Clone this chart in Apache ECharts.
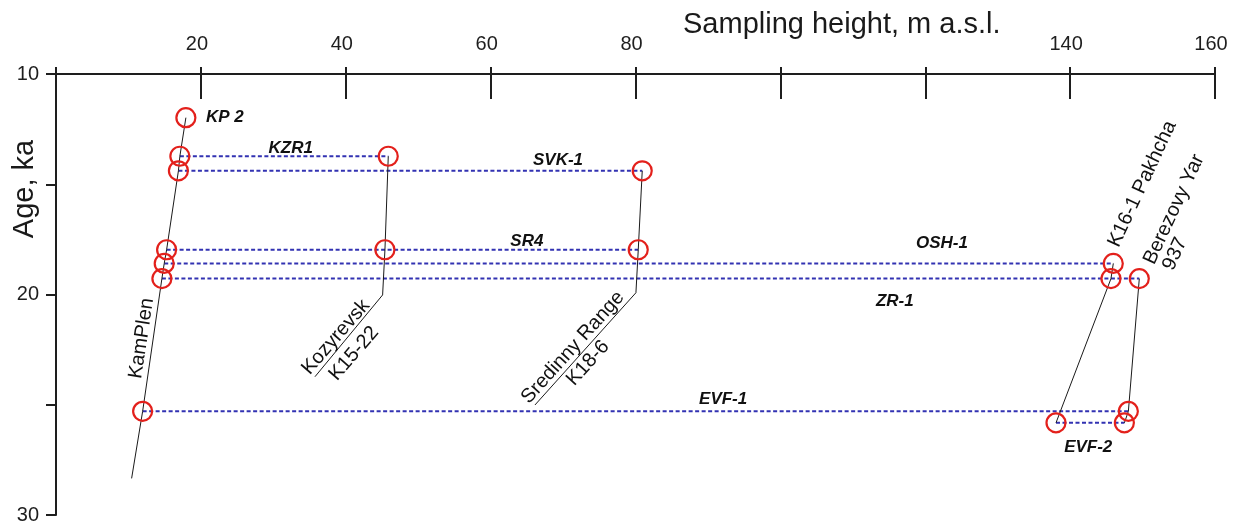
<!DOCTYPE html>
<html>
<head>
<meta charset="utf-8">
<script src="https://cdn.jsdelivr.net/npm/echarts@6/dist/echarts.min.js"></script>
<style>
html,body{margin:0;padding:0;background:#fff;}
#chart{width:1235px;height:527px;}
</style>
</head>
<body>
<div id="chart"></div>
<script>
// ---------- DATA ----------
const tephraNames = ['KP 2', 'KZR1', 'SVK-1', 'SR4', 'OSH-1', 'ZR-1', 'EVF-1', 'EVF-2'];
const tephraAges  = [11.98, 13.73, 14.39, 17.97, 18.59, 19.28, 25.30, 25.82];

// sampling heights (m a.s.l.) of each tephra in each section (null = absent)
const kamPlenHeights   = [17.93, 17.10, 16.90, 15.27, 14.94, 14.62, 11.96, null];
const kozyrevskHeights = [null, 45.87, null, 45.41, null, null, null, null];
const sredinnyHeights  = [null, null, 80.93, 80.38, null, null, null, null];
const pakhchaHeights   = [null, null, null, null, 145.96, 145.64, null, 138.05];
const berezovyHeights  = [null, null, null, null, null, 149.55, 148.04, 147.49];

// extra vertices of the section lines [height, age]
const kamPlenExtra   = [[10.44, 28.34]];
const kozyrevskExtra = [[45.09, 20.02], [35.75, 23.73]];
const sredinnyExtra  = [[80.06, 19.92], [66.12, 25.01]];

// tephra label anchors [height, age]
const tephraLabelX = [23.3, 32.4, 69.3, 65.0, 122.3, 115.8, 92.1, 142.5];
const tephraLabelY = [11.95, 13.36, 13.90, 17.57, 17.66, 20.29, 24.74, 26.92];

// section label anchors [height, age]
const siteLabelText = ['KamPlen', 'Kozyrevsk', 'K15-22', 'Sredinny Range', 'K18-6', 'K16-1 Pakhcha', 'Berezovy Yar', '937'];
const siteLabelX = [11.82, 38.64, 41.13, 71.36, 73.44, 149.97, 154.34, 154.48];
const siteLabelY = [21.99, 21.93, 22.68, 22.40, 23.11, 14.99, 16.14, 18.16];

const xTickLabels = ['20', '40', '60', '80', '140', '160'];
const yTickLabels = ['10', '20', '30'];

// ---------- BUILD ----------
const FONT = '"Liberation Sans", Arial, Helvetica, sans-serif';
const sections = [kamPlenHeights, kozyrevskHeights, sredinnyHeights, pakhchaHeights, berezovyHeights];
const extras = [kamPlenExtra, kozyrevskExtra, sredinnyExtra, [], []];
const siteRotate = [81.5, 49, 49, 48, 48, 65, 65, 65];

const series = [];

// dashed tephra correlation lines
tephraAges.forEach((age, i) => {
  const hs = sections.map(s => s[i]).filter(v => v != null);
  if (hs.length < 2) return;
  series.push({
    type: 'line', silent: true, symbol: 'none', z: 2,
    data: [[Math.min(...hs), age], [Math.max(...hs), age]],
    lineStyle: { color: '#3232b2', width: 2, type: [4, 2.5] }
  });
});

// section lines
sections.forEach((s, k) => {
  const pts = [];
  s.forEach((h, i) => { if (h != null) pts.push([h, tephraAges[i]]); });
  pts.push(...extras[k]);
  pts.sort((a, b) => a[1] - b[1]);
  series.push({
    type: 'line', silent: true, symbol: 'none', z: 3,
    data: pts,
    lineStyle: { color: '#1a1a1a', width: 1 }
  });
});

// sample circles
const circlePts = [];
sections.forEach(s => s.forEach((h, i) => { if (h != null) circlePts.push([h, tephraAges[i]]); }));
series.push({
  type: 'scatter', silent: true, z: 5, symbol: 'circle', symbolSize: 19,
  data: circlePts,
  itemStyle: { color: 'rgba(0,0,0,0)', borderColor: '#e3201b', borderWidth: 2.2, opacity: 1 }
});

// tephra labels
series.push({
  type: 'scatter', silent: true, z: 6, symbolSize: 1,
  itemStyle: { color: 'rgba(0,0,0,0)', opacity: 1 },
  data: tephraNames.map((n, i) => ({ value: [tephraLabelX[i], tephraLabelY[i]], name: n })),
  label: {
    show: true, position: 'inside', formatter: p => p.name, opacity: 1,
    fontFamily: FONT, fontSize: 17, fontWeight: 'bold', fontStyle: 'italic', color: '#111111'
  }
});

// section labels
series.push({
  type: 'scatter', silent: true, z: 6, symbolSize: 1,
  itemStyle: { color: 'rgba(0,0,0,0)', opacity: 1 },
  data: siteLabelText.map((n, i) => ({
    value: [siteLabelX[i], siteLabelY[i]], name: n,
    label: { rotate: siteRotate[i] }
  })),
  label: {
    show: true, position: 'inside', formatter: p => p.name, opacity: 1,
    fontFamily: FONT, fontSize: 20, color: '#111111'
  }
});

const chart = echarts.init(document.getElementById('chart'), null, { renderer: 'canvas' });
chart.setOption({
  animation: false,
  backgroundColor: '#ffffff',
  grid: { left: 56, right: 20, top: 74, bottom: 12, containLabel: false },
  xAxis: [{
    type: 'value', position: 'top', min: 0, max: 160, interval: 20,
    axisLine: { show: true, lineStyle: { color: '#1e1e1e', width: 2 } },
    axisTick: { show: true, inside: true, length: 25, lineStyle: { color: '#1e1e1e', width: 2 } },
    axisLabel: {
      show: true, margin: 20, fontFamily: FONT, fontSize: 20, color: '#1e1e1e',
      padding: [0, 8, 0, 0],
      formatter: v => (xTickLabels.indexOf(String(v)) >= 0 ? String(v) : '')
    },
    splitLine: { show: false }
  }, {
    type: 'value', position: 'top', min: 0, max: 160, interval: 20,
    axisLine: { show: false },
    axisTick: { show: true, inside: false, length: 7, lineStyle: { color: '#1e1e1e', width: 2 } },
    axisLabel: { show: false },
    splitLine: { show: false }
  }],
  yAxis: {
    type: 'value', inverse: true, min: 10, max: 30, interval: 5,
    axisLine: { show: true, lineStyle: { color: '#1e1e1e', width: 2 } },
    axisTick: { show: true, inside: false, length: 10, lineStyle: { color: '#1e1e1e', width: 2 } },
    axisLabel: {
      show: true, margin: 17, fontFamily: FONT, fontSize: 20, color: '#1e1e1e',
      formatter: v => (yTickLabels.indexOf(String(v)) >= 0 ? String(v) : '')
    },
    splitLine: { show: false }
  },
  graphic: [{
    type: 'text', left: 683, top: 10,
    style: { text: 'Sampling height, m a.s.l.', font: '29px ' + FONT, fill: '#1a1a1a' }
  }, {
    type: 'text', x: 25, y: 189, rotation: Math.PI / 2,
    style: { text: 'Age, ka', font: '29px ' + FONT, fill: '#1a1a1a', align: 'center', verticalAlign: 'middle' }
  }],
  series: series
});
</script>
</body>
</html>
